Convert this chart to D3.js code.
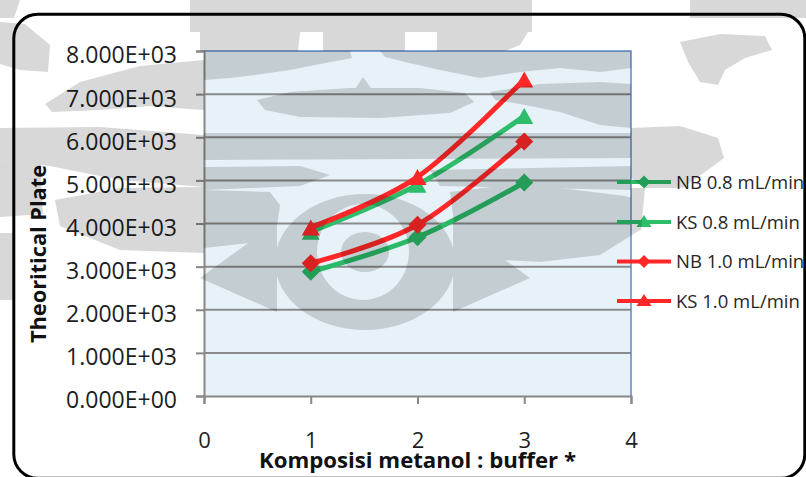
<!DOCTYPE html>
<html>
<head>
<meta charset="utf-8">
<script src="https://cdn.jsdelivr.net/npm/d3@7"></script>
<style>
  html, body { margin: 0; padding: 0; background: #ffffff; }
  svg { display: block; }
  text { font-family: "Open Sans", "Noto Sans", sans-serif; }
</style>
</head>
<body>
<svg id="chart" width="806" height="477"></svg>
<script>
// ---- data ----
const xTickValues = [0, 1, 2, 3, 4];
const yTickValues = [0, 1000, 2000, 3000, 4000, 5000, 6000, 7000, 8000];
const composition = [1, 2, 3];
const seriesNames = ["NB 0.8 mL/min", "KS 0.8 mL/min", "NB 1.0 mL/min", "KS 1.0 mL/min"];
const nb08 = [2880, 3680, 4950];
const ks08 = [3810, 4900, 6490];
const nb10 = [3080, 3970, 5900];
const ks10 = [3910, 5080, 7340];
const seriesValues = [nb08, ks08, nb10, ks10];
const seriesColors = ["#2aba67", "#2dbd6b", "#ff2727", "#ff2727"];
const seriesMarkers = ["diamond", "triangle", "diamond", "triangle"];
const xTitle = "Komposisi metanol : buffer *";
const yTitle = "Theoritical Plate";

// ---- background emblem (faint grey print across the page) ----
const emblemPolys = [
  // left margin
  [[0,0],[20,0],[14,18],[0,18]],
  [[0,22],[25,24],[50,45],[48,72],[20,70],[0,64]],
  [[45,104],[80,82],[140,66],[204,60],[204,110],[150,106],[100,110],[52,112]],
  [[0,128],[100,127],[204,135],[204,187],[120,180],[50,166],[0,160]],
  [[0,160],[40,162],[43,214],[0,217]],
  [[55,200],[120,188],[204,187],[204,253],[120,250],[60,226]],
  [[0,233],[13,233],[13,300],[0,300]],
  // top band and bowl above the plot
  [[190,0],[532,0],[532,32],[190,32]],
  [[200,32],[300,32],[298,51],[200,51]],
  [[323,32],[405,32],[405,51],[323,51]],
  [[437,32],[528,32],[520,45],[505,51],[437,51]],
  // top right
  [[690,0],[806,0],[806,18],[690,18]],
  [[680,42],[720,34],[765,36],[772,50],[745,58],[725,70],[718,85],[700,82],[688,62]],
  // inside the plot, upper half
  [[204,51],[350,51],[352,58],[320,64],[290,70],[255,75],[230,78],[204,80]],
  [[380,51],[631,51],[631,68],[600,72],[560,68],[520,72],[480,78],[440,70],[405,62],[385,57]],
  [[257,100],[290,92],[350,88],[420,88],[465,93],[474,102],[450,113],[380,118],[300,117],[265,110]],
  [[363,77],[378,98],[349,98]],
  [[490,92],[540,84],[600,82],[631,84],[631,128],[600,125],[560,112],[520,104],[495,100]],
  [[204,133],[631,133],[631,158],[204,160]],
  [[204,167],[300,166],[330,175],[300,186],[204,190]],
  [[430,170],[631,166],[631,190],[440,186]],
  // wings either side of the ring
  [[204,190],[270,192],[280,205],[275,240],[204,248]],
  [[450,192],[500,186],[560,188],[625,196],[640,200],[640,230],[600,255],[540,262],[470,258],[455,230]],
  [[200,278],[277,222],[277,312]],
  [[530,278],[453,222],[453,312]],
  // right of the plot
  [[631,128],[680,126],[718,138],[724,158],[705,172],[682,188],[645,188],[631,178]],
  [[631,188],[645,188],[641,230],[631,230]]
];

// ---- layout ----
const plot = { left: 204, right: 631, top: 51, bottom: 396 };

const svg = d3.select("#chart");

const x = d3.scaleLinear().domain([0, 4]).range([plot.left, plot.right]);
const y = d3.scaleLinear().domain([0, 8000]).range([plot.bottom, plot.top]);

const sciFormat = v => {
  const [m, e] = v.toExponential(3).split("e");
  const sign = e[0] === "-" ? "-" : "+";
  const digits = e.replace(/[+-]/, "").padStart(2, "0");
  return m + "E" + sign + digits;
};

// outer rounded frame
svg.append("rect")
  .attr("x", 13.8).attr("y", 14.3)
  .attr("width", 791).attr("height", 464)
  .attr("rx", 24).attr("ry", 24)
  .attr("fill", "#ffffff")
  .attr("stroke", "#000000").attr("stroke-width", 3);

// plot area
svg.append("rect")
  .attr("x", plot.left).attr("y", plot.top)
  .attr("width", plot.right - plot.left).attr("height", plot.bottom - plot.top)
  .attr("fill", "#e7f2f8");

// horizontal gridlines
svg.append("g")
  .selectAll("line")
  .data(yTickValues.filter(v => v > 0 && v < 8000))
  .join("line")
  .attr("x1", plot.left).attr("x2", plot.right)
  .attr("y1", d => y(d)).attr("y2", d => y(d))
  .attr("stroke", "#8a8a8a").attr("stroke-width", 2);

// top and right border of the plot area
svg.append("path")
  .attr("d", `M${plot.left},${plot.top}H${plot.right}V${plot.bottom}`)
  .attr("fill", "none").attr("stroke", "#5b8bc8").attr("stroke-width", 1.5);

// y axis
const yAxis = svg.append("g")
  .attr("transform", `translate(${plot.left},0)`)
  .call(d3.axisLeft(y).tickValues(yTickValues).tickSize(8).tickFormat(sciFormat));
yAxis.select(".domain").attr("stroke", "#878787").attr("stroke-width", 2);
yAxis.selectAll(".tick line").attr("stroke", "#878787").attr("stroke-width", 2);
yAxis.selectAll(".tick text")
  .attr("x", -27).attr("dy", "0.52em")
  .attr("font-size", 23).attr("fill", "#1e1e1e")
  .style("font-family", "'Open Sans', sans-serif");

// x axis
const xAxis = svg.append("g")
  .attr("transform", `translate(0,${plot.bottom})`)
  .call(d3.axisBottom(x).tickValues(xTickValues).tickSize(8).tickFormat(d3.format("d")));
xAxis.select(".domain").attr("stroke", "#878787").attr("stroke-width", 2);
xAxis.selectAll(".tick line").attr("stroke", "#878787").attr("stroke-width", 2);
xAxis.selectAll(".tick text")
  .attr("y", 52).attr("dy", 0)
  .attr("font-size", 22).attr("fill", "#1e1e1e")
  .style("font-family", "'Open Sans', sans-serif");

// series lines (smoothed)
const line = d3.line()
  .x((d, i) => x(composition[i]))
  .y(d => y(d))
  .curve(d3.curveCatmullRom.alpha(0));

const diamond = (cx, cy, r) => `M${cx},${cy - r}L${cx + r},${cy}L${cx},${cy + r}L${cx - r},${cy}Z`;
const triangle = (cx, cy, w, h) => `M${cx},${cy - h / 2}L${cx + w / 2},${cy + h / 2}L${cx - w / 2},${cy + h / 2}Z`;

const seriesG = svg.append("g");
seriesValues.forEach((vals, si) => {
  const g = seriesG.append("g");
  g.append("path")
    .attr("d", line(vals))
    .attr("fill", "none")
    .attr("stroke", seriesColors[si])
    .attr("stroke-width", 5)
    .attr("stroke-linejoin", "round")
    .attr("stroke-linecap", "round");
  g.selectAll("path.marker")
    .data(vals)
    .join("path")
    .attr("class", "marker")
    .attr("d", (d, i) => seriesMarkers[si] === "diamond"
      ? diamond(x(composition[i]), y(d), 9)
      : triangle(x(composition[i]), y(d), 18, 16))
    .attr("fill", seriesColors[si]);
});

// legend
const legendY = [182, 222, 261.5, 301];
const legend = svg.append("g");
seriesNames.forEach((name, si) => {
  const ly = legendY[si];
  legend.append("line")
    .attr("x1", 617).attr("x2", 671).attr("y1", ly).attr("y2", ly)
    .attr("stroke", seriesColors[si]).attr("stroke-width", 4);
  legend.append("path")
    .attr("d", seriesMarkers[si] === "diamond" ? diamond(644, ly, 6.5) : triangle(644, ly - 1, 15, 12))
    .attr("fill", seriesColors[si]);
  legend.append("text")
    .attr("x", 676).attr("y", ly + 6.6)
    .attr("font-size", 18.5).attr("fill", "#262626")
    .text(name);
});

// axis titles
svg.append("text")
  .attr("x", (plot.left + plot.right) / 2).attr("y", 467.5)
  .attr("text-anchor", "middle")
  .attr("font-size", 21).attr("font-weight", "bold").attr("fill", "#111")
  .attr("textLength", 317).attr("lengthAdjust", "spacingAndGlyphs")
  .text(xTitle);

svg.append("text")
  .attr("transform", "translate(46,254) rotate(-90)")
  .attr("text-anchor", "middle")
  .attr("font-size", 22).attr("font-weight", "bold").attr("fill", "#111")
  .attr("textLength", 178).attr("lengthAdjust", "spacingAndGlyphs")
  .text(yTitle);

// faint emblem printed over the whole page
const emblem = svg.append("g").attr("opacity", 0.15).attr("pointer-events", "none");
const polyLine = d3.line().curve(d3.curveLinearClosed);
emblemPolys.forEach(pts => emblem.append("path").attr("d", polyLine(pts)).attr("fill", "#000"));
// central ring with its hollow centre, plus the inner drop
const ellipsePath = (cx, cy, rx, ry) =>
  `M${cx - rx},${cy}A${rx},${ry} 0 1,0 ${cx + rx},${cy}A${rx},${ry} 0 1,0 ${cx - rx},${cy}Z`;
emblem.append("path")
  .attr("d", ellipsePath(365, 262, 90, 68) + ellipsePath(363, 252, 46, 48))
  .attr("fill-rule", "evenodd").attr("fill", "#000");
emblem.append("path").attr("d", ellipsePath(365, 252, 24, 20)).attr("fill", "#000");
</script>
</body>
</html>
